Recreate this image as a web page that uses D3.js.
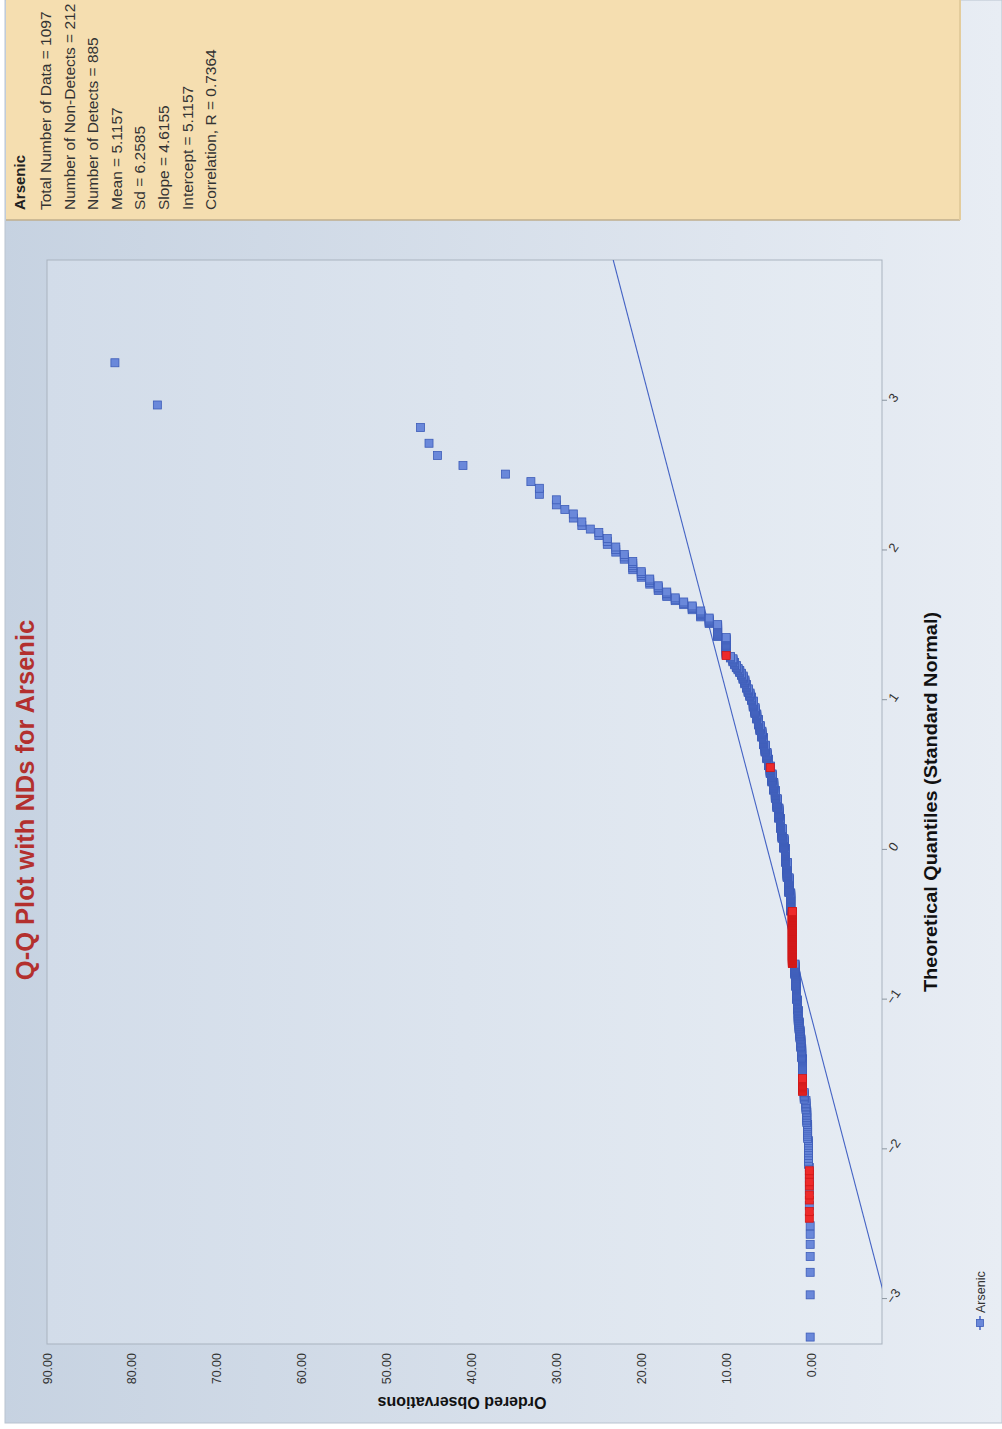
<!DOCTYPE html>
<html>
<head>
<meta charset="utf-8">
<script src="https://d3js.org/d3.v7.min.js"></script>
<style>
  body { margin: 0; background: #ffffff; }
  svg text { font-family: "Liberation Sans", Arial, sans-serif; }
</style>
</head>
<body>
<div id="chart"></div>
<script>
// ordered observations, run-length coded (value, how many, non-detect flag)
var obsValues = [0.1, 0.2, 0.2, 0.2, 0.2, 0.2, 0.2, 0.2, 0.2, 0.3, 0.4, 0.5, 0.6, 0.8, 1.0, 1.0, 1.1, 1.2, 1.3, 1.4,
                 1.5, 1.6, 1.7, 1.8, 1.9, 2.2, 2.4, 2.6, 2.8, 3.0, 3.2, 3.4, 3.6, 3.8, 4.0, 4.2, 4.4, 4.6, 4.8, 4.8,
                 4.8, 5.0, 5.2, 5.4, 5.6, 5.8, 6.0, 6.2, 6.4, 6.6, 6.8, 7.0, 7.2, 7.4, 7.6, 7.8, 8.0, 8.2, 8.4, 8.6,
                 8.8, 9.0, 9.2, 9.5, 10, 10, 11, 12, 13, 14, 15, 16, 17, 18, 19, 20, 21, 22, 23, 24,
                 25, 26, 27, 28, 29, 30, 32, 33, 36, 41, 44, 45, 46, 77, 82];
var obsCounts = [7, 2, 1, 2, 1, 2, 1, 2, 1, 10, 8, 8, 7, 6, 12, 20, 12, 12, 12, 12,
                 18, 18, 24, 24, 23, 129, 51, 43, 44, 41, 29, 29, 29, 30, 26, 22, 22, 22, 15, 1,
                 4, 17, 16, 17, 17, 14, 12, 12, 11, 12, 12, 7, 7, 7, 7, 7, 6, 4, 4, 3,
                 4, 4, 5, 3, 1, 21, 13, 6, 6, 4, 3, 3, 4, 4, 4, 4, 5, 3, 3, 3,
                 2, 1, 2, 2, 1, 2, 2, 1, 1, 1, 1, 1, 1, 1, 1];
var obsND =     [0, 1, 0, 1, 0, 1, 0, 1, 0, 0, 0, 0, 0, 0, 1, 0, 0, 0, 0, 0,
                 0, 0, 0, 0, 0, 1, 0, 0, 0, 0, 0, 0, 0, 0, 0, 0, 0, 0, 0, 1,
                 0, 0, 0, 0, 0, 0, 0, 0, 0, 0, 0, 0, 0, 0, 0, 0, 0, 0, 0, 0,
                 0, 0, 0, 0, 1, 0, 0, 0, 0, 0, 0, 0, 0, 0, 0, 0, 0, 0, 0, 0,
                 0, 0, 0, 0, 0, 0, 0, 0, 0, 0, 0, 0, 0, 0, 0];

var xTicks = [-3, -2, -1, 0, 1, 2, 3];
var yTicks = [0, 10, 20, 30, 40, 50, 60, 70, 80, 90];
var fitSlope = 4.6155;
var fitIntercept = 5.1157;
var statTitle = "Arsenic";
var statLines = ["Total Number of Data = 1097", "Number of Non-Detects = 212", "Number of Detects = 885",
                 "Mean = 5.1157", "Sd = 6.2585", "Slope = 4.6155", "Intercept = 5.1157", "Correlation, R = 0.7364"];

// inverse standard normal (Acklam)
function qnorm(p) {
  var a = [-3.969683028665376e+01, 2.209460984245205e+02, -2.759285104469687e+02, 1.383577518672690e+02, -3.066479806614716e+01, 2.506628277459239e+00];
  var b = [-5.447609879822406e+01, 1.615858368580409e+02, -1.556989798598866e+02, 6.680131188771972e+01, -1.328068155288572e+01];
  var c = [-7.784894002430293e-03, -3.223964580411365e-01, -2.400758277161838e+00, -2.549732539343734e+00, 4.374664141464968e+00, 2.938163982698783e+00];
  var d = [7.784695709041462e-03, 3.224671290700398e-01, 2.445134137142996e+00, 3.754408661907416e+00];
  var pl = 0.02425, q, r;
  if (p < pl) {
    q = Math.sqrt(-2 * Math.log(p));
    return (((((c[0]*q+c[1])*q+c[2])*q+c[3])*q+c[4])*q+c[5]) / ((((d[0]*q+d[1])*q+d[2])*q+d[3])*q+1);
  }
  if (p > 1 - pl) {
    q = Math.sqrt(-2 * Math.log(1 - p));
    return -(((((c[0]*q+c[1])*q+c[2])*q+c[3])*q+c[4])*q+c[5]) / ((((d[0]*q+d[1])*q+d[2])*q+d[3])*q+1);
  }
  q = p - 0.5; r = q * q;
  return (((((a[0]*r+a[1])*r+a[2])*r+a[3])*r+a[4])*r+a[5])*q / (((((b[0]*r+b[1])*r+b[2])*r+b[3])*r+b[4])*r+1);
}

// expand to points
var points = [];
obsValues.forEach(function(v, i) {
  for (var k = 0; k < obsCounts[i]; k++) points.push({value: v, nd: obsND[i]});
});
var n = points.length;
points.forEach(function(d, i) { d.q = qnorm((i + 1 - 0.375) / (n + 0.25)); });

// chart is drawn landscape, then turned a quarter left
var W = 1429, H = 1002;
var svg = d3.select("#chart").append("svg").attr("width", 1002).attr("height", 1429);
var defs = svg.append("defs");

var bgGrad = defs.append("linearGradient").attr("id", "bgGrad")
  .attr("gradientUnits", "userSpaceOnUse").attr("x1", 0).attr("y1", 0).attr("x2", 0).attr("y2", H);
bgGrad.append("stop").attr("offset", "0%").attr("stop-color", "#c6d2e1");
bgGrad.append("stop").attr("offset", "100%").attr("stop-color", "#e8edf4");

var plotGrad = defs.append("linearGradient").attr("id", "plotGrad")
  .attr("gradientUnits", "userSpaceOnUse").attr("x1", 0).attr("y1", 47).attr("x2", 0).attr("y2", 882);
plotGrad.append("stop").attr("offset", "0%").attr("stop-color", "#d2dce9");
plotGrad.append("stop").attr("offset", "100%").attr("stop-color", "#e6ecf3");

var g = svg.append("g").attr("transform", "translate(0," + W + ") rotate(-90)");

// panel
g.append("rect").attr("x", 6).attr("y", 5).attr("width", W - 6).attr("height", H - 5)
  .attr("fill", "url(#bgGrad)").attr("stroke", "#b9c3cf");

var plot = {left: 85, right: 1169, top: 47, bottom: 882};

var x = d3.scaleLinear().domain([-3.3, 3.94]).range([plot.left, plot.right]);
var y = d3.scaleLinear().domain([-8.36, 90]).range([plot.bottom, plot.top]);

defs.append("clipPath").attr("id", "plotClip").append("rect")
  .attr("x", plot.left).attr("y", plot.top)
  .attr("width", plot.right - plot.left).attr("height", plot.bottom - plot.top);

g.append("rect").attr("x", plot.left).attr("y", plot.top)
  .attr("width", plot.right - plot.left).attr("height", plot.bottom - plot.top)
  .attr("fill", "url(#plotGrad)").attr("stroke", "#a9b3bf").attr("stroke-width", 1);

// stats box
g.append("rect").attr("x", 1209).attr("y", 6).attr("width", 220).attr("height", 954)
  .attr("fill", "#f5deb0");
g.append("line").attr("x1", 1209).attr("x2", 1209).attr("y1", 6).attr("y2", 960)
  .attr("stroke", "#bfae8c").attr("stroke-width", 1.5);
g.append("line").attr("x1", 1209).attr("x2", W).attr("y1", 960).attr("y2", 960)
  .attr("stroke", "#e3cc9c").attr("stroke-width", 2);

g.append("text").attr("x", 1219).attr("y", 25)
  .style("font-size", "15px").style("font-weight", "bold").attr("fill", "#222")
  .text(statTitle);
g.selectAll(".stat").data(statLines).enter().append("text")
  .attr("class", "stat")
  .attr("x", 1219)
  .attr("y", function(d, i) { return 51 + i * 23.6; })
  .style("font-size", "15.5px").attr("fill", "#333")
  .text(function(d) { return d; });

// title
g.append("text").attr("x", 629).attr("y", 34).attr("text-anchor", "middle")
  .style("font-size", "25.5px").style("font-weight", "bold").attr("fill", "#b3302e")
  .text("Q-Q Plot with NDs for Arsenic");

// x axis
var xAxis = g.append("g").attr("transform", "translate(0," + plot.bottom + ")")
  .call(d3.axisBottom(x).tickValues(xTicks).tickSize(5).tickFormat(d3.format("d")));
xAxis.select(".domain").remove();
xAxis.selectAll(".tick line").attr("stroke", "#8a949f");
xAxis.selectAll(".tick text")
  .attr("y", 0).attr("dy", 0)
  .attr("transform", "translate(0,15) rotate(35)")
  .attr("text-anchor", "middle")
  .style("font-size", "13px").attr("fill", "#333");

g.append("text").attr("x", 627).attr("y", 937).attr("text-anchor", "middle")
  .attr("textLength", 380).attr("lengthAdjust", "spacingAndGlyphs")
  .style("font-size", "18px").style("font-weight", "bold").attr("fill", "#111")
  .text("Theoretical Quantiles (Standard Normal)");

// y axis
var yAxis = g.append("g").attr("transform", "translate(" + plot.left + ",0)")
  .call(d3.axisLeft(y).tickValues(yTicks).tickSize(0).tickPadding(9).tickFormat(d3.format(".2f")));
yAxis.select(".domain").remove();
yAxis.selectAll(".tick text").style("font-size", "12.5px").attr("fill", "#333");

g.append("text").attr("transform", "translate(32,462) rotate(-90)").attr("text-anchor", "middle")
  .style("font-size", "16px").style("font-weight", "bold").attr("fill", "#111")
  .text("Ordered Observations");

// fitted line
var inner = g.append("g").attr("clip-path", "url(#plotClip)");
inner.append("line")
  .attr("x1", x(-3.3)).attr("y1", y(fitIntercept + fitSlope * -3.3))
  .attr("x2", x(3.94)).attr("y2", y(fitIntercept + fitSlope * 3.94))
  .attr("stroke", "#4463c4").attr("stroke-width", 1.1);

// points: detects first, non-detects on top
var sz = 8;
inner.selectAll(".det").data(points.filter(function(d) { return !d.nd; })).enter().append("rect")
  .attr("class", "det")
  .attr("x", function(d) { return x(d.q) - sz / 2; })
  .attr("y", function(d) { return y(d.value) - sz / 2; })
  .attr("width", sz).attr("height", sz)
  .attr("fill", "#6a88da").attr("stroke", "#3d5cb8").attr("stroke-width", 0.8);
inner.selectAll(".nd").data(points.filter(function(d) { return d.nd; })).enter().append("rect")
  .attr("class", "nd")
  .attr("x", function(d) { return x(d.q) - sz / 2; })
  .attr("y", function(d) { return y(d.value) - sz / 2; })
  .attr("width", sz).attr("height", sz)
  .attr("fill", "#ee2a2a").attr("stroke", "#d01818").attr("stroke-width", 0.8);

// legend
var leg = g.append("g").attr("transform", "translate(99,980)");
leg.append("line").attr("x1", 0).attr("x2", 14).attr("y1", 0).attr("y2", 0)
  .attr("stroke", "#4463c4").attr("stroke-width", 1.5);
leg.append("rect").attr("x", 3.5).attr("y", -3.5).attr("width", 7).attr("height", 7)
  .attr("fill", "#6a88da").attr("stroke", "#3d5cb8").attr("stroke-width", 0.8);
leg.append("text").attr("x", 17).attr("y", 4.5)
  .style("font-size", "12.5px").attr("fill", "#333").text("Arsenic");
</script>
</body>
</html>
